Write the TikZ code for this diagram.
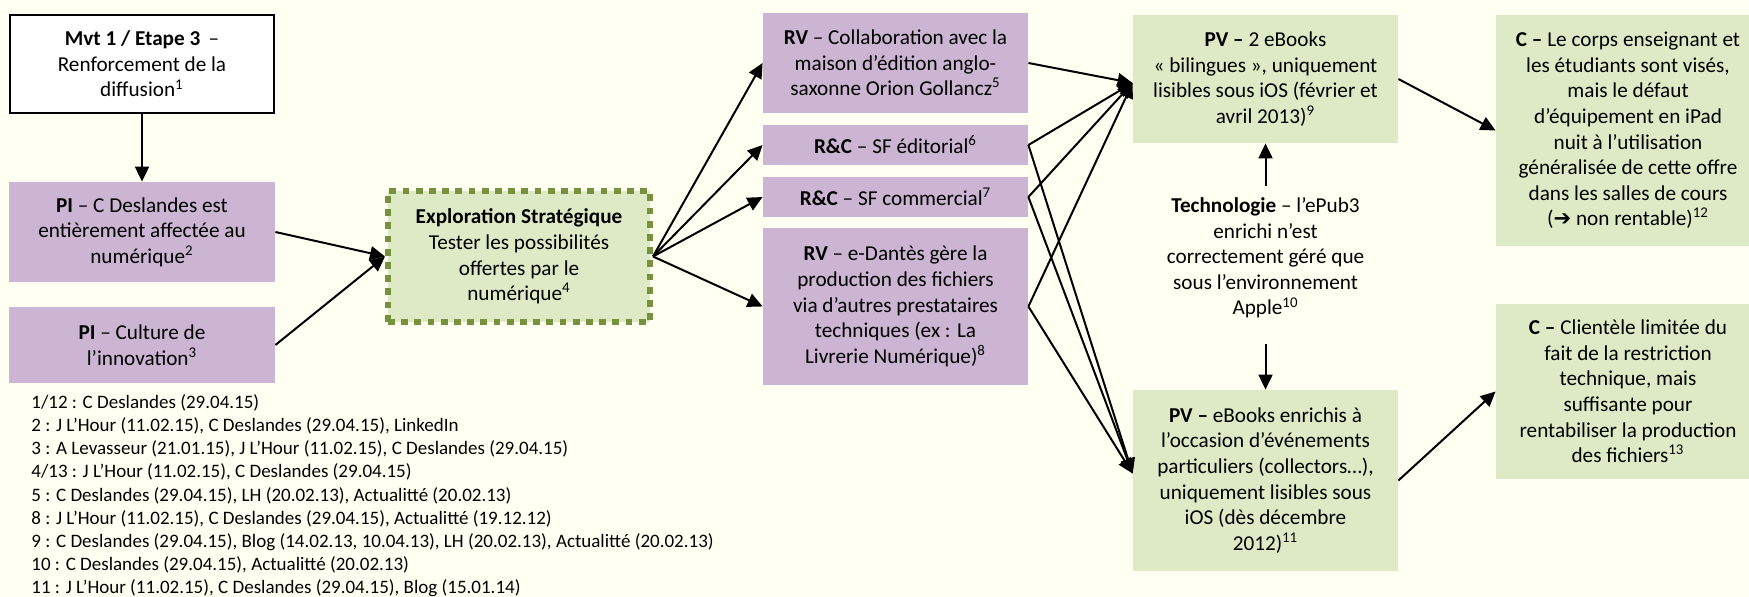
\documentclass[tikz,border=0pt]{standalone}
\usepackage{fontspec}
\setmainfont{Carlito}
\newfontfamily\symfont{DejaVu Sans}
\usetikzlibrary{arrows.meta}
\newdimen\px \px=0.5pt
\definecolor{bgc}{RGB}{255,255,242}
\definecolor{purp}{RGB}{204,180,211}
\definecolor{grn}{RGB}{221,234,197}
\definecolor{olivebd}{RGB}{118,146,60}
\begin{document}
\begin{tikzpicture}[x=0.5pt,y=-0.5pt,
  box/.style={rectangle,inner sep=0pt,align=center,font=\fontsize{10.6}{12.8}\selectfont},
  purplebox/.style={box,fill=purp},
  greenbox/.style={box,fill=grn},
  arr/.style={line width=1pt,-{Triangle[length=7.5pt,width=7pt]}},
]
\fill[bgc] (0,0) rectangle (1749,597);
\useasboundingbox (0,0) rectangle (1749,597);

% left column
\node[box,draw=black,line width=1pt,fill=white,minimum width=264\px,minimum height=98\px] (mvt) at (142,64)
  {\textbf{Mvt 1 / Etape 3} \,–\\Renforcement de la\\diffusion\textsuperscript{1}};
\node[purplebox,minimum width=266\px,minimum height=100\px] (pi1) at (142,232)
  {\textbf{PI} – C Deslandes est\\entièrement affectée au\\numérique\textsuperscript{2}};
\node[purplebox,minimum width=266\px,minimum height=76\px] (pi2) at (142,345)
  {\textbf{PI} – Culture de\\l’innovation\textsuperscript{3}};

% exploration
\node[box,fill=grn,draw=olivebd,line width=3pt,dash pattern=on 3.4pt off 3.2pt,
  minimum width=262\px,minimum height=131\px] (expl) at (519,256.5)
  {\textbf{Exploration Stratégique}\\Tester les possibilités\\offertes par le\\numérique\textsuperscript{4}};

% middle column
\node[purplebox,minimum width=265\px,minimum height=100\px] (rv1) at (895.5,63)
  {\textbf{RV} – Collaboration avec la\\maison d’édition anglo-\\saxonne Orion Gollancz\textsuperscript{5}};
\node[purplebox,minimum width=265\px,minimum height=40\px] (rc1) at (895.5,145)
  {\textbf{R\&C} – SF éditorial\textsuperscript{6}};
\node[purplebox,minimum width=265\px,minimum height=40\px] (rc2) at (895.5,197)
  {\textbf{R\&C} – SF commercial\textsuperscript{7}};
\node[purplebox,minimum width=265\px,minimum height=157\px] (rv2) at (895.5,306.5)
  {\textbf{RV} – e-Dantès gère la\\production des fichiers\\via d’autres prestataires\\techniques (ex : La\\Livrerie Numérique)\textsuperscript{8}};

% PV column
\node[greenbox,minimum width=265\px,minimum height=128\px] (pv1) at (1265.5,79)
  {\textbf{PV –} 2 eBooks\\« bilingues », uniquement\\lisibles sous iOS (février et\\avril 2013)\textsuperscript{9}};
\node[box] (tech) at (1265.5,258)
  {\textbf{Technologie} – l’ePub3\\enrichi n’est\\correctement géré que\\sous l’environnement\\Apple\textsuperscript{10}};
\node[greenbox,minimum width=265\px,minimum height=181\px] (pv2) at (1265.5,480.5)
  {\textbf{PV –} eBooks enrichis à\\l’occasion d’événements\\particuliers (collectors…),\\uniquement lisibles sous\\iOS (dès décembre\\2012)\textsuperscript{11}};

% C column
\node[greenbox,minimum width=264\px,minimum height=231\px] (c1) at (1628,130.5)
  {\textbf{C –} Le corps enseignant et\\les étudiants sont visés,\\mais le défaut\\d’équipement en iPad\\nuit à l’utilisation\\généralisée de cette offre\\dans les salles de cours\\({\symfont ➔} non rentable)\textsuperscript{12}};
\node[greenbox,minimum width=264\px,minimum height=175\px] (c2) at (1628,391.5)
  {\textbf{C –} Clientèle limitée du\\fait de la restriction\\technique, mais\\suffisante pour\\rentabiliser la production\\des fichiers\textsuperscript{13}};

% notes
\node[anchor=north west,inner sep=0pt,align=left,font=\fontsize{9.5}{11.6}\selectfont] (notes) at (31,394)
  {1/12 : C Deslandes (29.04.15)\\
   2 : J L’Hour (11.02.15), C Deslandes (29.04.15), LinkedIn\\
   3 : A Levasseur (21.01.15), J L’Hour (11.02.15), C Deslandes (29.04.15)\\
   4/13 : J L’Hour (11.02.15), C Deslandes (29.04.15)\\
   5 : C Deslandes (29.04.15), LH (20.02.13), Actualitté (20.02.13)\\
   8 : J L’Hour (11.02.15), C Deslandes (29.04.15), Actualitté (19.12.12)\\
   9 : C Deslandes (29.04.15), Blog (14.02.13, 10.04.13), LH (20.02.13), Actualitté (20.02.13)\\
   10 : C Deslandes (29.04.15), Actualitté (20.02.13)\\
   11 : J L’Hour (11.02.15), C Deslandes (29.04.15), Blog (15.01.14)};

% connectors
\draw[arr] (mvt.south) -- (pi1.north);
\draw[arr] (pi1.east) -- (expl.west);
\draw[arr] (pi2.east) -- (expl.west);
\draw[arr] (expl.east) -- (rv1.west);
\draw[arr] (expl.east) -- (rc1.west);
\draw[arr] (expl.east) -- (rc2.west);
\draw[arr] (expl.east) -- (rv2.west);
\draw[arr] (rv1.east) -- ([yshift=-2pt]pv1.west);
\draw[arr] (rc1.east) -- ([yshift=-2pt]pv1.west);
\draw[arr] (rc2.east) -- ([yshift=-2pt]pv1.west);
\draw[arr] (rv2.east) -- ([yshift=-2pt]pv1.west);
\draw[arr] (rc1.east) -- ([yshift=3.5pt]pv2.west);
\draw[arr] (rc2.east) -- ([yshift=3.5pt]pv2.west);
\draw[arr] (rv2.east) -- ([yshift=3.5pt]pv2.west);
\draw[arr] ([yshift=5.5pt]tech.north) -- (pv1.south);
\draw[arr] ([yshift=-12.5pt]tech.south) -- (pv2.north);
\draw[arr] (pv1.east) -- (c1.west);
\draw[arr] (pv2.east) -- (c2.west);
\end{tikzpicture}
\end{document}
